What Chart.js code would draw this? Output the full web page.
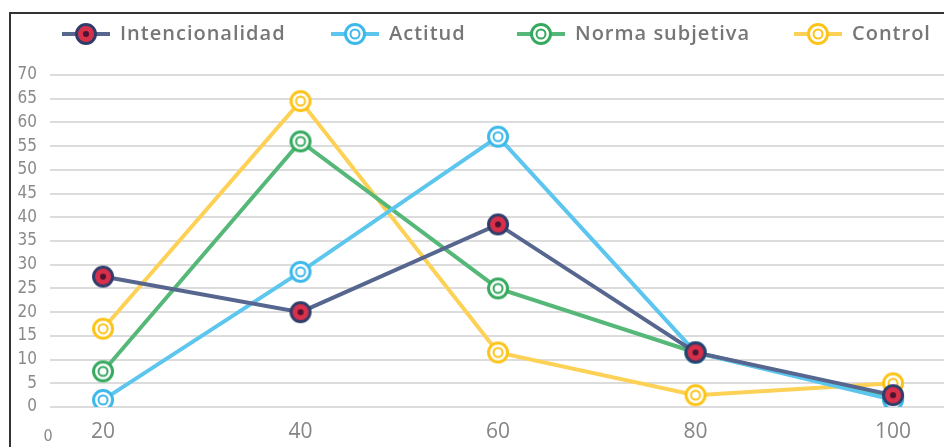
<!DOCTYPE html>
<html>
<head>
<meta charset="utf-8">
<script src="https://cdn.jsdelivr.net/npm/chart.js@4/dist/chart.umd.min.js"></script>
<style>
  html, body { margin: 0; padding: 0; background: #fff; }
  #wrap { position: relative; width: 944px; height: 447px; }
</style>
</head>
<body>
<div id="wrap"><canvas id="grafico"></canvas></div>
<script>
// valores
var categorias = [20, 40, 60, 80, 100];
var intencionalidad = [27.5, 20, 38.5, 11.5, 2.5];
var actitud = [1.5, 28.5, 57, 11.5, 1.5];
var normaSubjetiva = [7.5, 56, 25, 11.5, 2];
var control = [16.5, 64.5, 11.5, 2.5, 5];
var ticksY = [0, 5, 10, 15, 20, 25, 30, 35, 40, 45, 50, 55, 60, 65, 70];
var origenX = "0";

var X_MIN = 14.63, X_MAX = 105.16;

// marcador circular (anillo exterior + anillo interior)
function marcador(anillo, relleno, interior, w, h, linea) {
    var c = document.createElement("canvas");
    c.width = w; c.height = h;
    var g = c.getContext("2d");
    var cx = w / 2, cy = h / 2;
    if (linea) {
        g.strokeStyle = linea;
        g.lineWidth = 4;
        g.beginPath(); g.moveTo(0, cy); g.lineTo(w, cy); g.stroke();
    }
    g.beginPath(); g.arc(cx, cy, 9.5, 0, Math.PI * 2);
    g.fillStyle = relleno; g.fill();
    g.lineWidth = 3; g.strokeStyle = anillo; g.stroke();
    if (interior.punto) {
        g.beginPath(); g.arc(cx, cy, 3, 0, Math.PI * 2);
        g.fillStyle = interior.punto; g.fill();
    } else {
        g.beginPath(); g.arc(cx, cy, 4.5, 0, Math.PI * 2);
        g.lineWidth = 2; g.strokeStyle = interior.anillo; g.stroke();
    }
    return c;
}

var series = [
    { nombre: "Intencionalidad", datos: intencionalidad, color: "#56668f", anillo: "#2f3d6b", relleno: "#d8304a", interior: { punto: "#4a1530" } },
    { nombre: "Actitud", datos: actitud, color: "#5cc6ee", anillo: "#3db8ea", relleno: "#ffffff", interior: { anillo: "#3db8ea" } },
    { nombre: "Norma subjetiva", datos: normaSubjetiva, color: "#56b878", anillo: "#35a95e", relleno: "#ffffff", interior: { anillo: "#35a95e" } },
    { nombre: "Control", datos: control, color: "#fdd156", anillo: "#fcc419", relleno: "#ffffff", interior: { anillo: "#fcc419" } }
];

var datasets = series.map(function (s) {
    return {
        label: s.nombre,
        data: categorias.map(function (x, i) { return { x: x, y: s.datos[i] }; }),
        borderColor: s.color,
        borderWidth: 4,
        tension: 0,
        pointStyle: marcador(s.anillo, s.relleno, s.interior, 26, 26),
        pointRadius: 10,
        pointHoverRadius: 10,
        legendImg: marcador(s.anillo, s.relleno, s.interior, 48, 24, s.color)
    };
});

// marco, leyenda y el "0" suelto del eje x
var marcoLeyenda = {
    id: "marcoLeyenda",
    afterDraw: function (chart) {
        var ctx = chart.ctx;
        ctx.save();
        ctx.strokeStyle = "#333";
        ctx.lineWidth = 2;
        ctx.beginPath();
        ctx.moveTo(10, 447); ctx.lineTo(10, 13); ctx.lineTo(944, 13);
        ctx.stroke();

        var posX = [62, 331, 517, 794];
        ctx.font = "600 20px 'Open Sans'";
        ctx.letterSpacing = "1px";
        ctx.fillStyle = "#767676";
        ctx.textBaseline = "middle";
        chart.data.datasets.forEach(function (ds, i) {
            ctx.drawImage(ds.legendImg, posX[i], 22);
            ctx.fillText(ds.label, posX[i] + 58, 34);
        });

        ctx.letterSpacing = "0px";
        ctx.font = "16px 'Liberation Sans Narrow', 'DejaVu Sans Condensed'";
        ctx.fillStyle = "#8a8a8a";
        ctx.textAlign = "center";
        ctx.fillText(origenX, chart.chartArea.left - 2, 437);
        ctx.restore();
    }
};

new Chart(document.getElementById("grafico"), {
    type: "line",
    data: { datasets: datasets },
    plugins: [marcoLeyenda],
    options: {
        responsive: true,
        maintainAspectRatio: false,
        animation: false,
        layout: { autoPadding: false, padding: { top: 75, right: 0, bottom: 0, left: 0 } },
        plugins: {
            legend: { display: false },
            tooltip: { enabled: false }
        },
        scales: {
            x: {
                type: "linear",
                min: X_MIN,
                max: X_MAX,
                afterBuildTicks: function (scale) {
                    scale.ticks = categorias.map(function (v) { return { value: v }; });
                },
                afterFit: function (scale) {
                    scale.height = 40;
                    scale.paddingLeft = 0;
                    scale.paddingRight = 0;
                },
                grid: { display: false, drawTicks: false },
                border: { display: false },
                ticks: {
                    autoSkip: false,
                    maxRotation: 0,
                    padding: 12,
                    color: "#858585",
                    font: { family: "'Open Sans'", size: 21 }
                }
            },
            y: {
                min: 0,
                max: 70,
                afterBuildTicks: function (scale) {
                    scale.ticks = ticksY.map(function (v) { return { value: v }; });
                },
                afterFit: function (scale) { scale.width = 50; },
                grid: { color: "#dcdcdc", lineWidth: 2, drawTicks: false },
                border: { display: false },
                ticks: {
                    padding: 13,
                    color: "#8a8a8a",
                    font: { family: "'Liberation Sans Narrow', 'DejaVu Sans Condensed'", size: 17 }
                }
            }
        }
    }
});
</script>
</body>
</html>
